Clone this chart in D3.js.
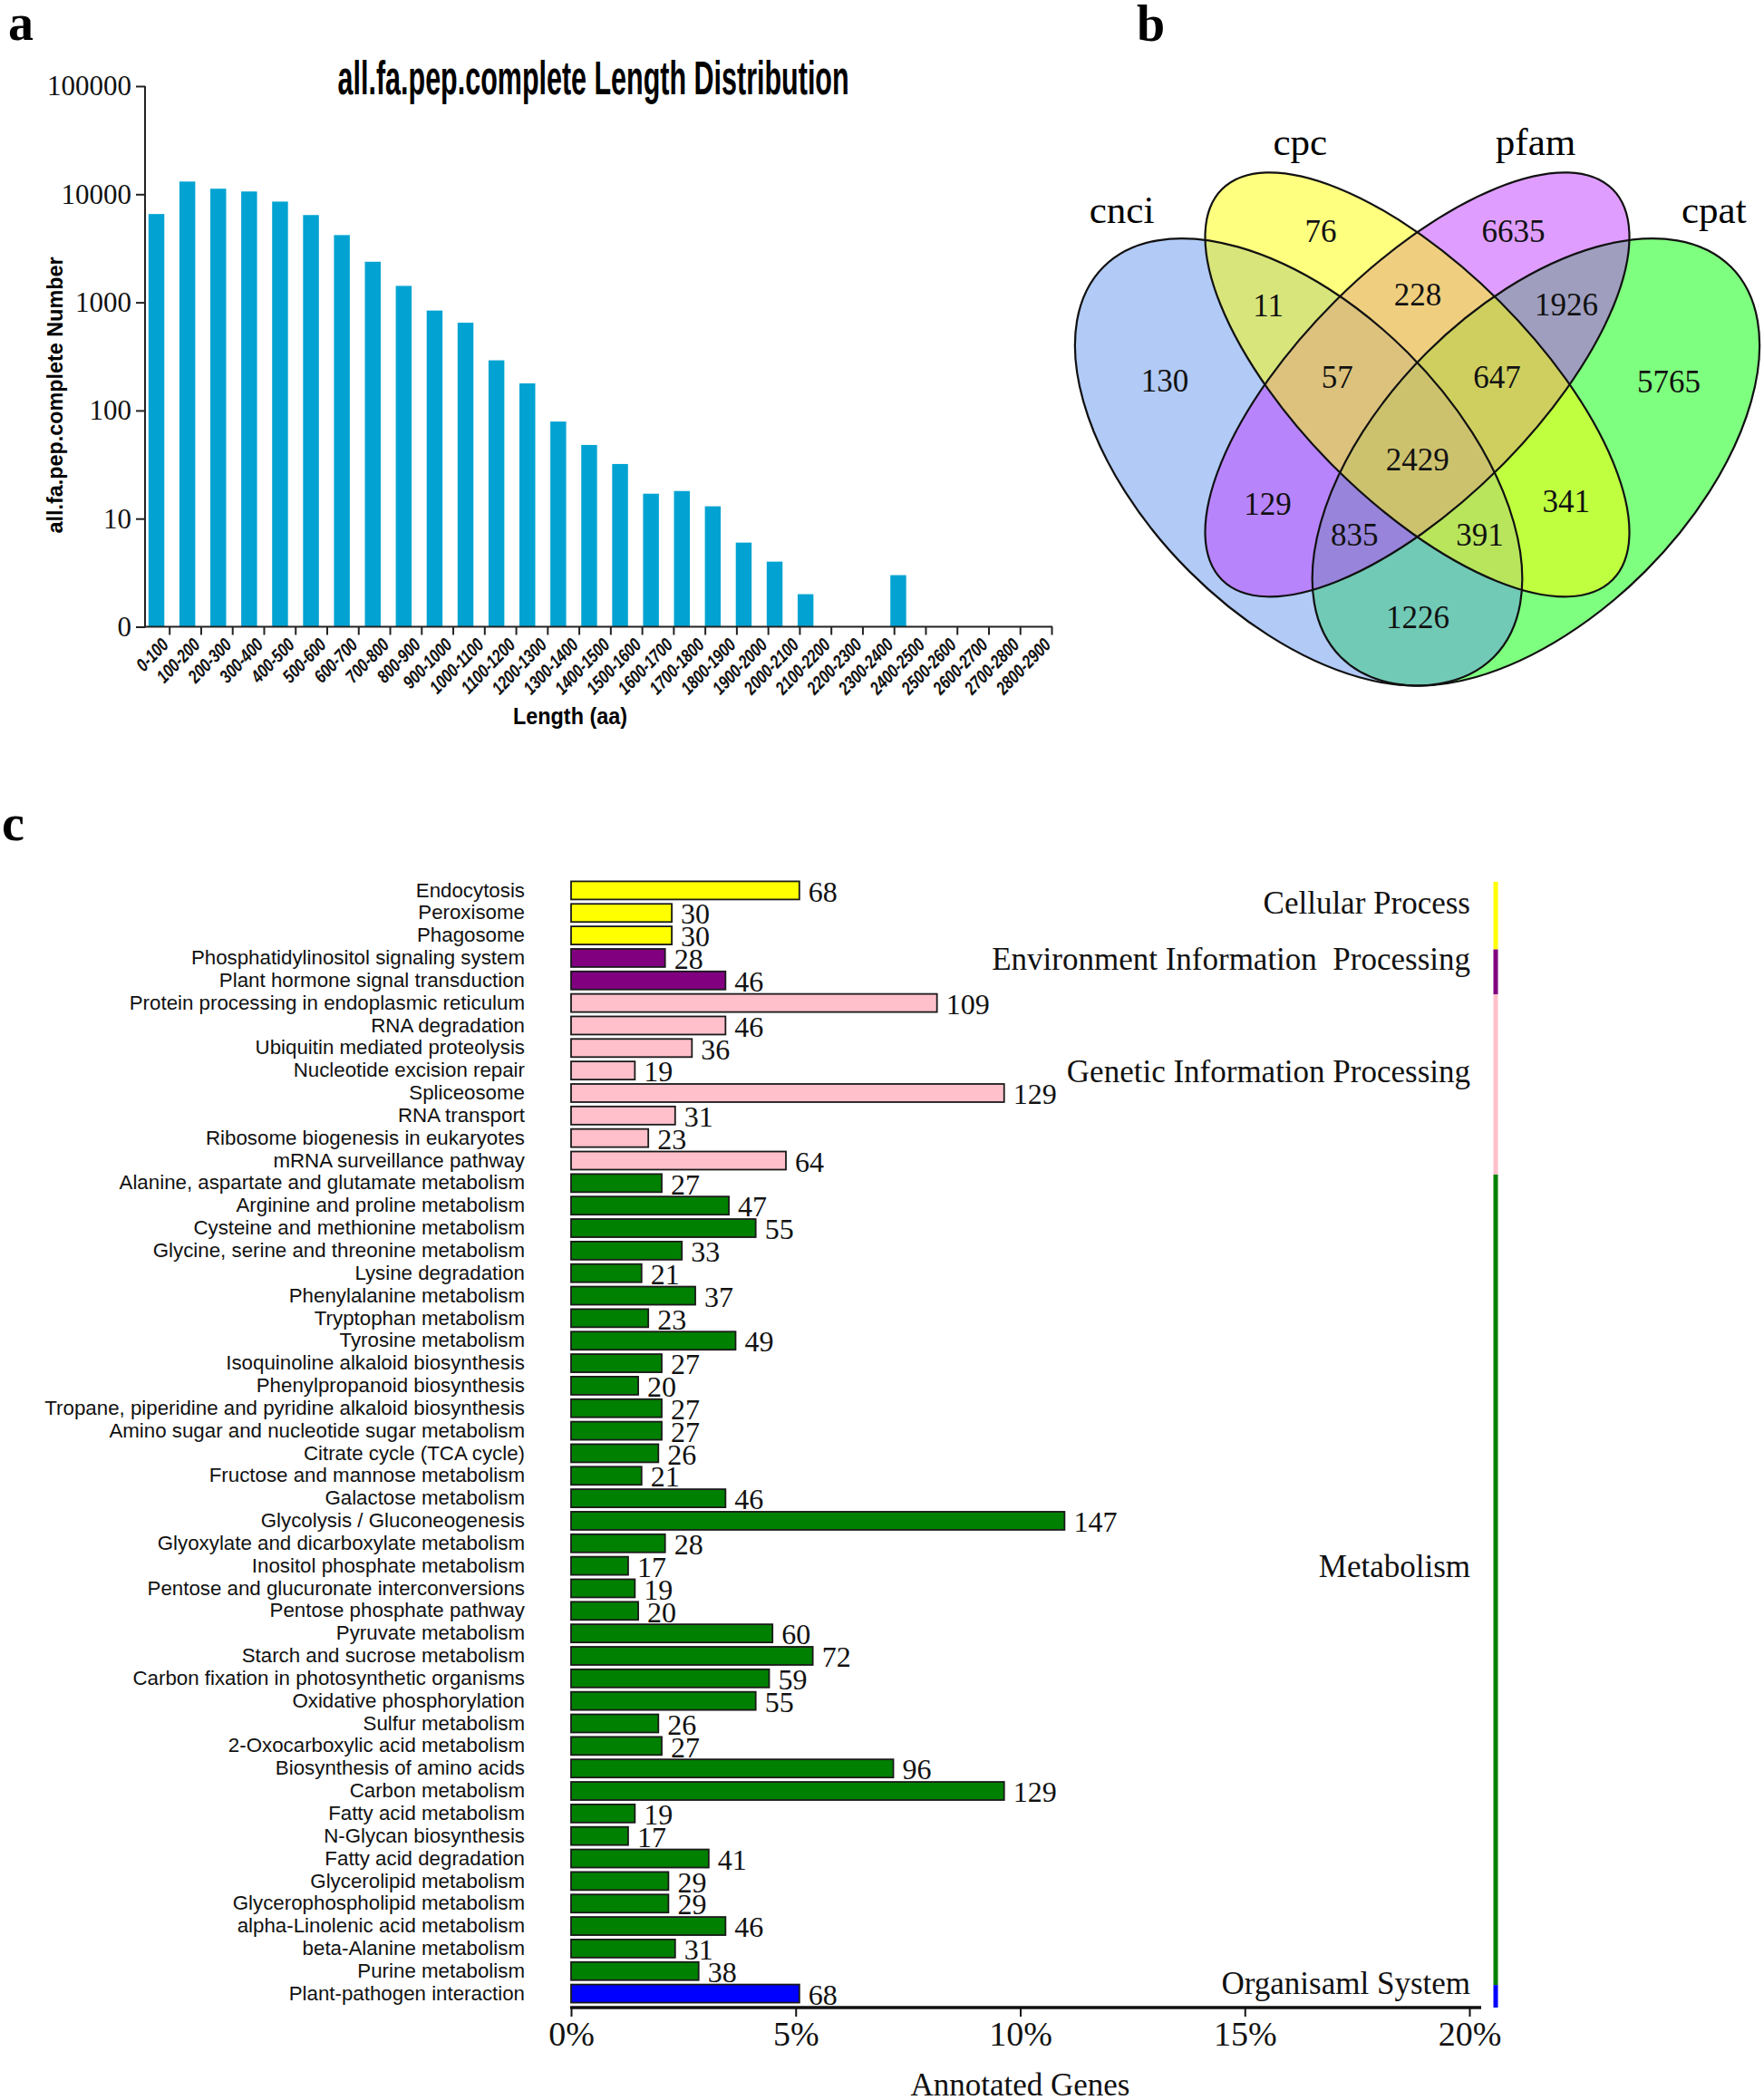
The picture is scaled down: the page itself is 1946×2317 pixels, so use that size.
<!DOCTYPE html>
<html>
<head>
<meta charset="utf-8">
<script src="https://cdn.jsdelivr.net/npm/d3@7"></script>
<style>
  html, body { margin: 0; padding: 0; background: #fff; }
  svg { display: block; }
</style>
</head>
<body>
<svg id="fig" width="1946" height="2317"></svg>
<script>
// ---------- data: panel a (length distribution) ----------
var lengthBins = ["0-100", "100-200", "200-300", "300-400", "400-500", "500-600", "600-700",
  "700-800", "800-900", "900-1000", "1000-1100", "1100-1200", "1200-1300", "1300-1400",
  "1400-1500", "1500-1600", "1600-1700", "1700-1800", "1800-1900", "1900-2000", "2000-2100",
  "2100-2200", "2200-2300", "2300-2400", "2400-2500", "2500-2600", "2600-2700", "2700-2800",
  "2800-2900"];
var lengthCounts = [6560, 13100, 11250, 10600, 8550, 6420, 4190, 2375, 1420, 840, 648, 291,
  178, 79, 48, 32, 17, 18, 13, 6, 4, 2, 0, 0, 3, 0, 0, 0, 0];
var lengthTicks = [1, 10, 100, 1000, 10000, 100000];

// ---------- data: panel b (venn) ----------
var vennSets = ["cnci", "cpc", "pfam", "cpat"];
var vennRegions = ["cnci", "cpc", "pfam", "cpat", "cnci&cpc", "cpc&pfam", "pfam&cpat",
  "cnci&pfam", "cpc&cpat", "cnci&cpat", "cnci&cpc&pfam", "cpc&pfam&cpat", "cnci&pfam&cpat",
  "cnci&cpc&cpat", "cnci&cpc&pfam&cpat"];
var vennCounts = [130, 76, 6635, 5765, 11, 228, 1926, 129, 341, 1226, 57, 647, 835, 391, 2429];

// ---------- data: panel c (KEGG classes) ----------
var pathways = ["Endocytosis", "Peroxisome", "Phagosome",
  "Phosphatidylinositol signaling system", "Plant hormone signal transduction",
  "Protein processing in endoplasmic reticulum", "RNA degradation",
  "Ubiquitin mediated proteolysis", "Nucleotide excision repair", "Spliceosome",
  "RNA transport", "Ribosome biogenesis in eukaryotes", "mRNA surveillance pathway",
  "Alanine, aspartate and glutamate metabolism", "Arginine and proline metabolism",
  "Cysteine and methionine metabolism", "Glycine, serine and threonine metabolism",
  "Lysine degradation", "Phenylalanine metabolism", "Tryptophan metabolism",
  "Tyrosine metabolism", "Isoquinoline alkaloid biosynthesis", "Phenylpropanoid biosynthesis",
  "Tropane, piperidine and pyridine alkaloid biosynthesis",
  "Amino sugar and nucleotide sugar metabolism", "Citrate cycle (TCA cycle)",
  "Fructose and mannose metabolism", "Galactose metabolism", "Glycolysis / Gluconeogenesis",
  "Glyoxylate and dicarboxylate metabolism", "Inositol phosphate metabolism",
  "Pentose and glucuronate interconversions", "Pentose phosphate pathway",
  "Pyruvate metabolism", "Starch and sucrose metabolism",
  "Carbon fixation in photosynthetic organisms", "Oxidative phosphorylation",
  "Sulfur metabolism", "2-Oxocarboxylic acid metabolism", "Biosynthesis of amino acids",
  "Carbon metabolism", "Fatty acid metabolism", "N-Glycan biosynthesis",
  "Fatty acid degradation", "Glycerolipid metabolism", "Glycerophospholipid metabolism",
  "alpha-Linolenic acid metabolism", "beta-Alanine metabolism", "Purine metabolism",
  "Plant-pathogen interaction"];
var pathwayCounts = [68, 30, 30, 28, 46, 109, 46, 36, 19, 129, 31, 23, 64,
  27, 47, 55, 33, 21, 37, 23, 49, 27, 20, 27, 27, 26, 21, 46, 147, 28, 17, 19, 20,
  60, 72, 59, 55, 26, 27, 96, 129, 19, 17, 41, 29, 29, 46, 31, 38, 68];
var classNames = ["Cellular Process", "Environment Information  Processing",
  "Genetic Information Processing", "Metabolism", "Organisaml System"];
var classSizes = [3, 2, 8, 36, 1];
var classColors = ["#ffff00", "#800080", "#ffc0cb", "#008000", "#0000ff"];
var annotatedTotal = 1338;
var pctTicks = [0, 5, 10, 15, 20];

var serif = "'Liberation Serif','Times New Roman',serif";
var sans = "'Liberation Sans',Arial,sans-serif";
var svg = d3.select("#fig");

// panel letters
[["a", 9, 44], ["b", 1254, 45], ["c", 2, 927]].forEach(function (p) {
  svg.append("text").text(p[0]).attr("x", p[1]).attr("y", p[2])
    .attr("font-family", serif).attr("font-weight", "bold").attr("font-size", 56);
});

// ================= panel a =================
var gA = svg.append("g");
var barX = d3.scaleBand().domain(lengthBins).range([155.5, 1144.4])
  .paddingInner(0.488).paddingOuter(0.244);
var tickX = d3.scalePoint().domain(lengthBins).range([186.7, 1160]);
var yLog = d3.scaleLog().domain([1, 100000]).range([691.5, 95]);

gA.selectAll("rect.len")
  .data(lengthBins.map(function (b, i) { return { bin: b, n: lengthCounts[i] }; })
    .filter(function (d) { return d.n > 0; }))
  .join("rect")
  .attr("class", "len")
  .attr("x", function (d) { return barX(d.bin); })
  .attr("width", barX.bandwidth())
  .attr("y", function (d) { return yLog(d.n); })
  .attr("height", function (d) { return yLog(1) - yLog(d.n); })
  .attr("fill", "#02a3d2");

gA.append("g").attr("transform", "translate(160,0)")
  .call(d3.axisLeft(yLog).tickValues(lengthTicks)
    .tickFormat(function (d) { return d === 1 ? "0" : String(d); })
    .tickSize(10).tickPadding(5))
  .call(function (g) { g.select(".domain").remove(); })
  .attr("font-family", serif).attr("font-size", 31)
  .call(function (g) {
    g.selectAll("line").attr("stroke", "#222").attr("stroke-width", 2);
    g.selectAll("text").attr("fill", "#111");
  });

gA.append("g").attr("transform", "translate(0,691.5)")
  .call(d3.axisBottom(tickX).tickSize(9).tickSizeOuter(0))
  .call(function (g) { g.select(".domain").remove(); })
  .attr("font-family", sans).attr("font-size", 20.5)
  .call(function (g) {
    g.selectAll("line").attr("stroke", "#222").attr("stroke-width", 2);
    g.selectAll("text").attr("x", 0).attr("y", 0).attr("dy", null)
      .attr("text-anchor", "end").attr("font-weight", "bold").attr("font-style", "italic")
      .attr("fill", "#111")
      .attr("transform", "translate(0,21) rotate(-46)")
      .each(function () {
        var w = this.getComputedTextLength();
        d3.select(this).attr("textLength", w * 0.78).attr("lengthAdjust", "spacingAndGlyphs");
      });
  });

gA.append("line").attr("x1", 160).attr("x2", 160)
  .attr("y1", yLog(100000)).attr("y2", yLog(1) + 1)
  .attr("stroke", "#222").attr("stroke-width", 2);
gA.append("line").attr("x1", 159).attr("x2", 1161)
  .attr("y1", yLog(1)).attr("y2", yLog(1))
  .attr("stroke", "#222").attr("stroke-width", 2);

gA.append("text").text("all.fa.pep.complete Length Distribution")
  .attr("x", 654.6).attr("y", 104).attr("text-anchor", "middle")
  .attr("font-family", "'Liberation Sans Narrow','Liberation Sans',Arial,sans-serif")
  .attr("font-weight", "bold").attr("font-size", 51)
  .attr("textLength", 564).attr("lengthAdjust", "spacingAndGlyphs");

gA.append("text").text("all.fa.pep.complete Number")
  .attr("transform", "translate(69,436) rotate(-90)").attr("text-anchor", "middle")
  .attr("font-family", sans).attr("font-weight", "bold").attr("font-size", 23)
  .attr("textLength", 305).attr("lengthAdjust", "spacingAndGlyphs");

gA.append("text").text("Length (aa)")
  .attr("x", 629).attr("y", 799).attr("text-anchor", "middle")
  .attr("font-family", sans).attr("font-weight", "bold").attr("font-size", 25)
  .attr("textLength", 126).attr("lengthAdjust", "spacingAndGlyphs");

// ================= panel b =================
var vennShapes = {
  cnci: { cx: 1432.6, cy: 509.8, rx: 304.4, ry: 170.5, rot: 45, color: "#6495ed", lx: 1237.6, ly: 246 },
  cpc:  { cx: 1563.5, cy: 424.3, rx: 304.7, ry: 129.1, rot: 45, color: "#ffff00", lx: 1434.3, ly: 171 },
  pfam: { cx: 1563.5, cy: 424.3, rx: 304.7, ry: 129.1, rot: -45, color: "#bf3eff", lx: 1694, ly: 171 },
  cpat: { cx: 1694.4, cy: 509.8, rx: 304.4, ry: 170.5, rot: -45, color: "#00ff00", lx: 1890.8, ly: 246 }
};
var drawOrder = ["cpat", "cnci", "pfam", "cpc"];
var gB = svg.append("g");

function ellipseAttrs(sel) {
  sel.attr("cx", function (k) { return vennShapes[k].cx; })
    .attr("cy", function (k) { return vennShapes[k].cy; })
    .attr("rx", function (k) { return vennShapes[k].rx; })
    .attr("ry", function (k) { return vennShapes[k].ry; })
    .attr("transform", function (k) {
      var s = vennShapes[k];
      return "rotate(" + s.rot + "," + s.cx + "," + s.cy + ")";
    });
}
gB.selectAll("ellipse.fill").data(drawOrder).join("ellipse").attr("class", "fill")
  .call(ellipseAttrs)
  .attr("fill", function (k) { return vennShapes[k].color; }).attr("fill-opacity", 0.5);
gB.selectAll("ellipse.edge").data(drawOrder).join("ellipse").attr("class", "edge")
  .call(ellipseAttrs)
  .attr("fill", "none").attr("stroke", "#111").attr("stroke-width", 2.2);

gB.selectAll("text.set").data(vennSets).join("text").attr("class", "set")
  .text(function (k) { return k; })
  .attr("x", function (k) { return vennShapes[k].lx; })
  .attr("y", function (k) { return vennShapes[k].ly; })
  .attr("text-anchor", "middle").attr("font-family", serif).attr("font-size", 43);

// place each count at the most interior point of its region
function inside(s, x, y) {
  var t = s.rot * Math.PI / 180, dx = x - s.cx, dy = y - s.cy;
  var u = dx * Math.cos(t) + dy * Math.sin(t), v = -dx * Math.sin(t) + dy * Math.cos(t);
  return (u * u) / (s.rx * s.rx) + (v * v) / (s.ry * s.ry) <= 1;
}
var G = 2, gx0 = 1180, gy0 = 180, nx = 384, ny = 296;
var codes = new Int16Array(nx * ny), dist = new Float32Array(nx * ny);
for (var j = 0; j < ny; j++) {
  for (var i = 0; i < nx; i++) {
    var m = 0;
    vennSets.forEach(function (k, b) {
      if (inside(vennShapes[k], gx0 + i * G, gy0 + j * G)) m |= (1 << b);
    });
    codes[j * nx + i] = m;
  }
}
for (j = 0; j < ny; j++) {
  for (i = 0; i < nx; i++) {
    var c = codes[j * nx + i], edge = (i === 0 || j === 0 || i === nx - 1 || j === ny - 1);
    if (!edge) {
      edge = codes[j * nx + i - 1] !== c || codes[j * nx + i + 1] !== c ||
        codes[(j - 1) * nx + i] !== c || codes[(j + 1) * nx + i] !== c;
    }
    dist[j * nx + i] = edge ? 0 : 1e9;
  }
}
var D = Math.SQRT2;
for (j = 1; j < ny - 1; j++) {
  for (i = 1; i < nx - 1; i++) {
    var p = j * nx + i;
    dist[p] = Math.min(dist[p], dist[p - 1] + 1, dist[p - nx] + 1,
      dist[p - nx - 1] + D, dist[p - nx + 1] + D);
  }
}
for (j = ny - 2; j > 0; j--) {
  for (i = nx - 2; i > 0; i--) {
    p = j * nx + i;
    dist[p] = Math.min(dist[p], dist[p + 1] + 1, dist[p + nx] + 1,
      dist[p + nx + 1] + D, dist[p + nx - 1] + D);
  }
}
// average all cells within a hair of the best depth, so plateaus give a centred spot
var best = {};
for (p = 0; p < nx * ny; p++) {
  c = codes[p];
  if (c > 0 && (!best[c] || dist[p] > best[c])) best[c] = dist[p];
}
var acc = {};
for (p = 0; p < nx * ny; p++) {
  c = codes[p];
  if (c > 0 && dist[p] >= best[c] - 1.5) {
    acc[c] = acc[c] || { x: 0, y: 0, k: 0 };
    acc[c].x += gx0 + (p % nx) * G;
    acc[c].y += gy0 + Math.floor(p / nx) * G;
    acc[c].k += 1;
  }
}
var regionData = vennRegions.map(function (r, i) {
  var m = 0;
  r.split("&").forEach(function (k) { m |= (1 << vennSets.indexOf(k)); });
  return { mask: m, n: vennCounts[i], x: acc[m].x / acc[m].k, y: acc[m].y / acc[m].k };
});
gB.selectAll("text.count").data(regionData).join("text").attr("class", "count")
  .text(function (d) { return d.n; })
  .attr("x", function (d) { return d.x; })
  .attr("y", function (d) { return d.y; })
  .attr("dy", "0.35em").attr("text-anchor", "middle")
  .attr("font-family", serif).attr("font-size", 35).attr("fill", "#111");

// ================= panel c =================
var gC = svg.append("g");
var classOf = [];
classSizes.forEach(function (n, ci) { for (var q = 0; q < n; q++) classOf.push(ci); });

var yRow = d3.scaleBand().domain(pathways).range([970, 970 + 50 * 24.84])
  .paddingInner(0.195).paddingOuter(0.0975);
var xPct = d3.scaleLinear().domain([0, 20]).range([630, 1621]);
function barEnd(n) { return xPct(n / annotatedTotal * 100); }

var rows = pathways.map(function (name, i) {
  return { name: name, n: pathwayCounts[i], cls: classOf[i] };
});

gC.selectAll("rect.path").data(rows).join("rect").attr("class", "path")
  .attr("x", xPct(0))
  .attr("y", function (d) { return yRow(d.name); })
  .attr("width", function (d) { return barEnd(d.n) - xPct(0); })
  .attr("height", yRow.bandwidth())
  .attr("fill", function (d) { return classColors[d.cls]; })
  .attr("stroke", "#1a1a1a").attr("stroke-width", 1.8);

gC.selectAll("text.val").data(rows).join("text").attr("class", "val")
  .text(function (d) { return d.n; })
  .attr("x", function (d) { return barEnd(d.n) + 10; })
  .attr("y", function (d) { return yRow(d.name) + yRow.bandwidth() / 2 + 1; })
  .attr("dy", "0.35em")
  .attr("font-family", serif).attr("font-size", 32).attr("fill", "#111");

gC.append("g").attr("transform", "translate(" + xPct(0) + ",0)")
  .call(d3.axisLeft(yRow).tickSize(0).tickPadding(51))
  .call(function (g) { g.select(".domain").remove(); })
  .attr("font-family", sans).attr("font-size", 22.3)
  .call(function (g) { g.selectAll("text").attr("fill", "#111"); });

// class strip and class labels
var stepC = yRow.step();
var classSpans = classNames.map(function (name, ci) {
  var first = classOf.indexOf(ci), last = classOf.lastIndexOf(ci);
  var top = yRow(pathways[first]) - stepC * yRow.paddingInner() / 2;
  var bottom = yRow(pathways[last]) + yRow.bandwidth() + stepC * yRow.paddingInner() / 2;
  return { name: name, color: classColors[ci], top: top, bottom: bottom };
});
gC.selectAll("rect.strip").data(classSpans).join("rect").attr("class", "strip")
  .attr("x", 1647.5).attr("width", 5)
  .attr("y", function (d) { return d.top + 3; })
  .attr("height", function (d) { return d.bottom - d.top; })
  .attr("fill", function (d) { return d.color; });
gC.selectAll("text.cls").data(classSpans).join("text").attr("class", "cls")
  .text(function (d) { return d.name; })
  .attr("x", 1622)
  .attr("y", function (d) { return (d.top + d.bottom) / 2 - 12; })
  .attr("dy", "0.35em").attr("text-anchor", "end")
  .style("white-space", "pre")
  .attr("font-family", serif).attr("font-size", 35).attr("fill", "#111");

// percentage axis
var axisY = 2215;
gC.append("g").attr("transform", "translate(0," + axisY + ")")
  .call(d3.axisBottom(xPct).tickValues(pctTicks)
    .tickFormat(function (d) { return d + "%"; }).tickSize(10).tickPadding(5))
  .call(function (g) { g.select(".domain").remove(); })
  .attr("font-family", serif).attr("font-size", 38)
  .call(function (g) {
    g.selectAll("line").attr("stroke", "#111").attr("stroke-width", 2);
    g.selectAll("text").attr("fill", "#111");
  });
gC.append("line").attr("x1", xPct(0) - 1).attr("x2", 1634)
  .attr("y1", axisY).attr("y2", axisY)
  .attr("stroke", "#111").attr("stroke-width", 3.5);
gC.append("text").text("Annotated Genes")
  .attr("x", (xPct(0) + xPct(20)) / 2).attr("y", 2312).attr("text-anchor", "middle")
  .attr("font-family", serif).attr("font-size", 35).attr("fill", "#111");
</script>
</body>
</html>
